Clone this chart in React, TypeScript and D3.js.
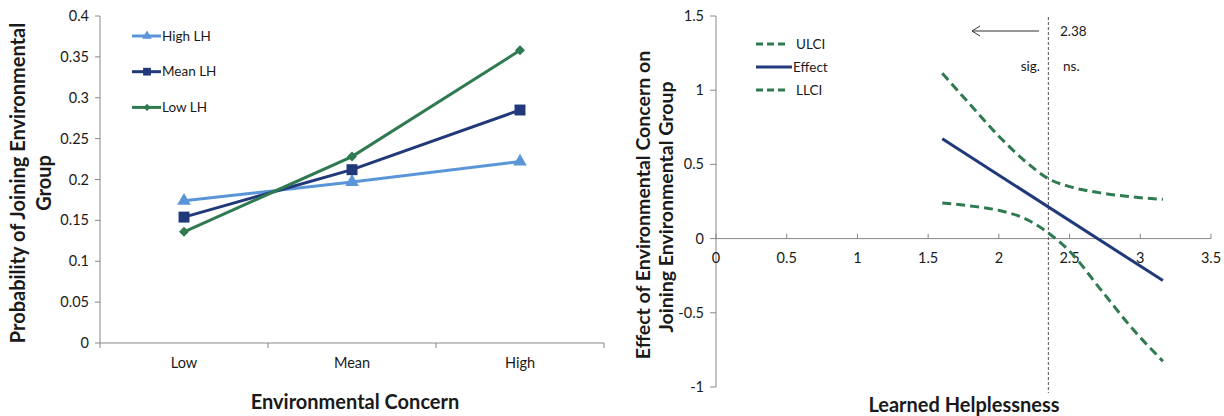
import React from "react";
import * as d3 from "d3";

// left panel: predicted probabilities
const categories = ["Low", "Mean", "High"];
const highLH = [0.174, 0.197, 0.222];
const meanLH = [0.154, 0.212, 0.285];
const lowLH = [0.136, 0.228, 0.358];
const probTicks = [0, 0.05, 0.1, 0.15, 0.2, 0.25, 0.3, 0.35, 0.4];

// right panel: Johnson-Neyman plot
const lhValues = [1.6, 1.8, 2.0, 2.2, 2.35, 2.5, 2.72, 2.95, 3.16];
const ulci = [1.115, 0.9, 0.69, 0.51, 0.404, 0.35, 0.308, 0.28, 0.265];
const llci = [0.24, 0.22, 0.19, 0.128, 0.038, -0.085, -0.343, -0.613, -0.826];
const effectX = [1.6, 3.16];
const effectY = [0.673, -0.283];
const jnPoint = 2.35;
const jnLabel = "2.38";
const effTicksX = [0, 0.5, 1, 1.5, 2, 2.5, 3, 3.5];
const effTicksY = [-1, -0.5, 0, 0.5, 1, 1.5];

const FONT = "Lato, 'Open Sans', sans-serif";
const AXIS = "#878787";
const TEXT = "#1a1a1a";
const LIGHT = "#5a95d8";
const NAVY = "#21397a";
const GREEN = "#2f7a50";

const App = () => {
  // left scales
  const xBand = d3.scaleBand().domain(categories).range([100, 604]);
  const xL = (c: string) => (xBand(c) as number) + xBand.bandwidth() / 2;
  const yL = d3.scaleLinear().domain([0, 0.4]).range([343, 16]);

  // right scales
  const xR = d3.scaleLinear().domain([0, 3.5]).range([716, 1211]);
  const yR = d3.scaleLinear().domain([-1, 1.5]).range([387, 16]);

  const lineL = d3
    .line<number>()
    .x((_, i) => xL(categories[i]))
    .y((d) => yL(d));

  const ciLine = d3
    .line<number>()
    .x((_, i) => xR(lhValues[i]))
    .y((d) => yR(d))
    .curve(d3.curveMonotoneX);

  const effLine = d3
    .line<number>()
    .x((_, i) => xR(effectX[i]))
    .y((d) => yR(d));

  // excel-like diamond = square turned 45deg
  const series = [
    { name: "High LH", data: highLH, color: LIGHT, type: d3.symbolTriangle, size: 80, legSize: 40, rot: 0 },
    { name: "Mean LH", data: meanLH, color: NAVY, type: d3.symbolSquare, size: 120, legSize: 60, rot: 0 },
    { name: "Low LH", data: lowLH, color: GREEN, type: d3.symbolSquare, size: 50, legSize: 26, rot: 45 },
  ];

  const ciLegend = [
    { name: "ULCI", color: GREEN, dash: "7,4" },
    { name: "Effect", color: NAVY, dash: "" },
    { name: "LLCI", color: GREEN, dash: "7,4" },
  ];

  return (
    <svg
      width={1224}
      height={416}
      style={{ position: "absolute", left: 0, top: 0, background: "#fff" }}
      fontFamily={FONT}
    >
      {/* ---------- left chart ---------- */}
      <line x1={100} x2={100} y1={yL(0.4)} y2={yL(0)} stroke={AXIS} />
      <line x1={100} x2={604} y1={yL(0)} y2={yL(0)} stroke={AXIS} />
      {probTicks.map((t) => (
        <g key={t}>
          <line x1={95} x2={100} y1={yL(t)} y2={yL(t)} stroke={AXIS} />
          <text
            x={89}
            y={yL(t)}
            dy="0.35em"
            textAnchor="end"
            fontSize={14.5}
            fill={TEXT}
          >
            {t}
          </text>
        </g>
      ))}
      {categories.map((c, i) => (
        <g key={c}>
          <line
            x1={xBand(c)}
            x2={xBand(c)}
            y1={yL(0)}
            y2={yL(0) + 5}
            stroke={AXIS}
          />
          {i === categories.length - 1 && (
            <line
              x1={604}
              x2={604}
              y1={yL(0)}
              y2={yL(0) + 5}
              stroke={AXIS}
            />
          )}
          <text
            x={xL(c)}
            y={363}
            dy="0.35em"
            textAnchor="middle"
            fontSize={14.5}
            fill={TEXT}
          >
            {c}
          </text>
        </g>
      ))}
      {series.map((s) => (
        <g key={s.name}>
          <path
            d={lineL(s.data) as string}
            fill="none"
            stroke={s.color}
            strokeWidth={3}
          />
          {s.data.map((v, i) => (
            <path
              key={i}
              d={d3.symbol(s.type, s.size)() as string}
              transform={`translate(${xL(categories[i])},${yL(v)}) rotate(${s.rot})`}
              fill={s.color}
            />
          ))}
        </g>
      ))}
      {series.map((s, i) => {
        const y = 36 + i * 35.7;
        return (
          <g key={s.name}>
            <line x1={132} x2={161} y1={y} y2={y} stroke={s.color} strokeWidth={3} />
            <path
              d={d3.symbol(s.type, s.legSize)() as string}
              transform={`translate(147,${y}) rotate(${s.rot})`}
              fill={s.color}
            />
            <text x={162} y={y} dy="0.35em" fontSize={13.5} fill={TEXT}>
              {s.name}
            </text>
          </g>
        );
      })}
      <text
        transform="translate(18,183) rotate(-90)"
        textAnchor="middle"
        dy="0.35em"
        fontSize={20}
        fontWeight="bold"
        fill={TEXT}
      >
        Probability of Joining Environmental
      </text>
      <text
        transform="translate(44,183) rotate(-90)"
        textAnchor="middle"
        dy="0.35em"
        fontSize={20}
        fontWeight="bold"
        fill={TEXT}
      >
        Group
      </text>
      <text
        x={355}
        y={402}
        dy="0.35em"
        textAnchor="middle"
        fontSize={20}
        fontWeight="bold"
        fill={TEXT}
      >
        Environmental Concern
      </text>

      {/* ---------- right chart ---------- */}
      <line x1={xR(0)} x2={xR(0)} y1={yR(1.5)} y2={yR(-1)} stroke={AXIS} />
      <line x1={xR(0)} x2={xR(3.5)} y1={yR(0)} y2={yR(0)} stroke={AXIS} />
      {effTicksY.map((t) => (
        <g key={t}>
          <line x1={xR(0) - 6} x2={xR(0)} y1={yR(t)} y2={yR(t)} stroke={AXIS} />
          <text
            x={704}
            y={yR(t)}
            dy="0.35em"
            textAnchor="end"
            fontSize={14.5}
            fill={TEXT}
          >
            {t}
          </text>
        </g>
      ))}
      {effTicksX.map((t) => (
        <g key={t}>
          <line x1={xR(t)} x2={xR(t)} y1={yR(0)} y2={yR(0) - 5} stroke={AXIS} />
          <text
            x={xR(t)}
            y={258}
            dy="0.35em"
            textAnchor="middle"
            fontSize={14.5}
            fill={TEXT}
          >
            {t}
          </text>
        </g>
      ))}
      <line
        x1={xR(jnPoint)}
        x2={xR(jnPoint)}
        y1={17}
        y2={393}
        stroke="#555"
        strokeWidth={1}
        strokeDasharray="3,2"
      />
      <path
        d={ciLine(ulci) as string}
        fill="none"
        stroke={GREEN}
        strokeWidth={3}
        strokeDasharray="9,5"
      />
      <path
        d={ciLine(llci) as string}
        fill="none"
        stroke={GREEN}
        strokeWidth={3}
        strokeDasharray="9,5"
      />
      <path
        d={effLine(effectY) as string}
        fill="none"
        stroke={NAVY}
        strokeWidth={3}
      />
      {ciLegend.map((s, i) => {
        const y = 44 + i * 23;
        return (
          <g key={s.name}>
            <line
              x1={756}
              x2={s.dash ? 787 : 792}
              y1={y}
              y2={y}
              stroke={s.color}
              strokeWidth={3}
              strokeDasharray={s.dash || undefined}
            />
            <text
              x={s.dash ? 796 : 793}
              y={y}
              dy="0.35em"
              fontSize={13.5}
              fill={TEXT}
            >
              {s.name}
            </text>
          </g>
        );
      })}
      {/* arrow to significance region */}
      <line x1={1039} x2={972} y1={31} y2={31} stroke="#333" strokeWidth={1} />
      <path d="M980,26 L972,31 L980,36" fill="none" stroke="#333" strokeWidth={1} />
      <text x={1060} y={31} dy="0.35em" fontSize={13.5} fill={TEXT}>
        {jnLabel}
      </text>
      <text x={1040} y={66} dy="0.35em" textAnchor="end" fontSize={13.5} fill={TEXT}>
        sig.
      </text>
      <text x={1063} y={66} dy="0.35em" fontSize={13.5} fill={TEXT}>
        ns.
      </text>
      <text
        transform="translate(643,205) rotate(-90)"
        textAnchor="middle"
        dy="0.35em"
        fontSize={19.5}
        fontWeight="bold"
        fill={TEXT}
      >
        Effect of Environmental Concern on
      </text>
      <text
        transform="translate(666,207) rotate(-90)"
        textAnchor="middle"
        dy="0.35em"
        fontSize={19.5}
        fontWeight="bold"
        fill={TEXT}
      >
        Joining Environmental Group
      </text>
      <text
        x={964}
        y={405}
        dy="0.35em"
        textAnchor="middle"
        fontSize={20}
        fontWeight="bold"
        fill={TEXT}
      >
        Learned Helplessness
      </text>
    </svg>
  );
};

export default App;
